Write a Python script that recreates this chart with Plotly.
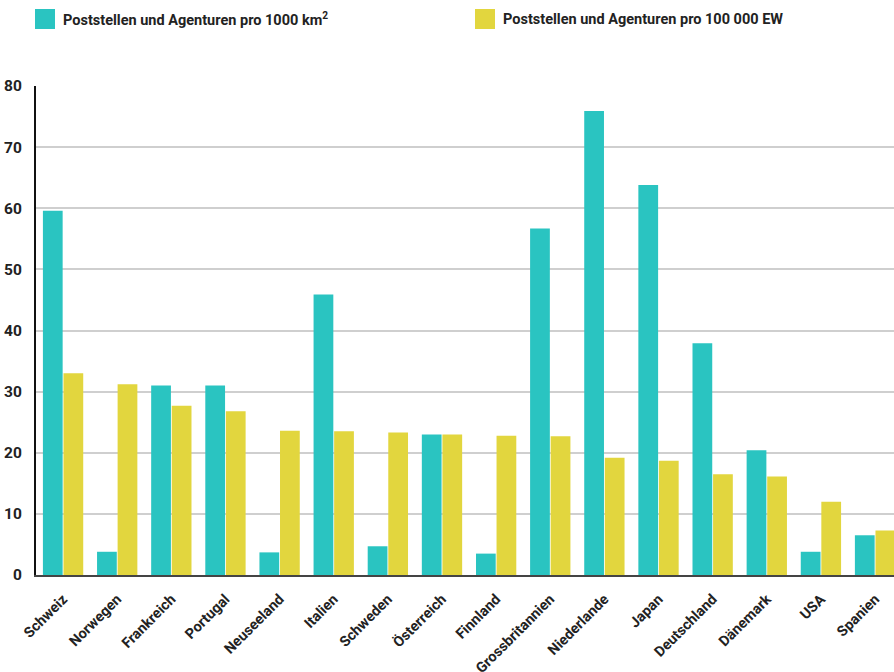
import plotly.graph_objects as go

countries = ["Schweiz", "Norwegen", "Frankreich", "Portugal", "Neuseeland", "Italien",
             "Schweden", "Österreich", "Finnland", "Grossbritannien", "Niederlande",
             "Japan", "Deutschland", "Dänemark", "USA", "Spanien"]
per_area = [59.6, 3.8, 31.0, 31.0, 3.7, 45.9, 4.7, 23.0, 3.5, 56.7, 75.9, 63.8, 37.9, 20.4, 3.8, 6.5]
per_pop = [33.0, 31.2, 27.7, 26.8, 23.6, 23.5, 23.3, 23.0, 22.8, 22.7, 19.2, 18.7, 16.5, 16.1, 12.0, 7.3]
y_ticks = [0, 10, 20, 30, 40, 50, 60, 70, 80]

name_area = "Poststellen und Agenturen pro 1000 km<sup>2</sup>"
name_pop = "Poststellen und Agenturen pro 100 000 EW"

TEAL = "#2AC4C1"
YELLOW = "#E2D63E"
FONT = "Roboto"
TXT = "#222222"

W, H = 894, 672
ML, MR, MT, MB = 36, 0, 86, 97
PW, PH = W - ML - MR, H - MT - MB


def px_x(px):
    return (px - ML) / PW


def px_y(py):
    return (H - MB - py) / PH


fig = go.Figure()
fig.add_trace(go.Bar(x=countries, y=per_area, name=name_area, marker_color=TEAL,
                     marker_line_width=0, showlegend=False))
fig.add_trace(go.Bar(x=countries, y=per_pop, name=name_pop, marker_color=YELLOW,
                     marker_line_width=0, showlegend=False))

# legend drawn as swatches + labels
legend_items = [(35, TEAL, name_area), (475, YELLOW, name_pop)]
for x0, col, label in legend_items:
    fig.add_shape(type="rect", xref="paper", yref="paper",
                  x0=px_x(x0), x1=px_x(x0 + 20), y0=px_y(29), y1=px_y(9),
                  fillcolor=col, line_width=0)
    fig.add_annotation(xref="paper", yref="paper", x=px_x(x0 + 26), y=px_y(19),
                       xanchor="left", yanchor="middle", showarrow=False, text=label,
                       font=dict(size=14.5, family=FONT, color=TXT, weight="bold"))

fig.update_layout(
    width=W, height=H,
    margin=dict(l=ML, r=MR, t=MT, b=MB, autoexpand=False),
    paper_bgcolor="white", plot_bgcolor="white",
    barmode="group", bargap=0.24, bargroupgap=0.04,
    font=dict(family=FONT, color=TXT),
    showlegend=False,
)
fig.update_xaxes(
    type="category", range=[-0.5, 15.35], automargin=False,
    tickangle=-45, tickfont=dict(size=14.5, family=FONT, color=TXT, weight="bold"),
    showgrid=False, showline=True, linecolor="#444444", linewidth=2,
    ticks="", ticklabelstandoff=8, zeroline=False,
)
fig.update_yaxes(
    range=[0, 80], tickvals=y_ticks, ticktext=[str(v) for v in y_ticks], automargin=False,
    tickfont=dict(size=15.5, family=FONT, color=TXT, weight="bold"),
    showgrid=True, gridcolor="#CFCFCF", gridwidth=1.5,
    showline=True, linecolor="#111111", linewidth=2,
    ticks="", ticklabelstandoff=9, zeroline=False,
)

fig.write_html("out.html", config={"displayModeBar": False},
               post_script="document.body.style.margin='0';")
